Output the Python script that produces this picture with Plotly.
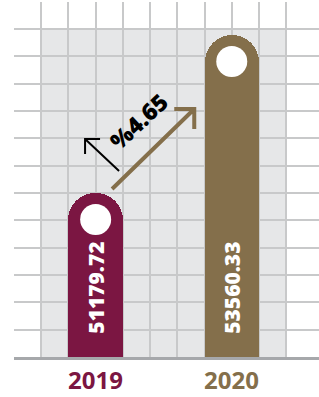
import plotly.graph_objects as go

# ---- data ----
categories = ["2019", "2020"]
values = [51179.72, 53560.33]
bar_colors = ["#7b1642", "#846f4b"]

# ---- layout constants ----
W, H = 319, 397
ML, MR, MT, MB = 14, 0, 2, 40
PLOT_W = W - ML - MR
PLOT_H = H - MT - MB
CELL_PX_X = 27.22
CELL_PX_Y = 27.33
X_MAX = PLOT_W / CELL_PX_X
Y_PER_PX = 15.067
Y_MIN = 48708.7
Y_MAX = Y_MIN + PLOT_H * Y_PER_PX
GRID_STEP = CELL_PX_Y * Y_PER_PX
bar_x = [3, 8]


def px2x(dx):
    return dx / CELL_PX_X


def px2y(dy):
    return dy * Y_PER_PX


fig = go.Figure()

fig.add_trace(go.Bar(
    x=bar_x, y=values, width=2,
    marker=dict(color=bar_colors, line=dict(width=0), cornerradius="50%"),
    hoverinfo="skip", showlegend=False,
))

fig.add_trace(go.Scatter(
    x=bar_x, y=[v - px2y(26.5) for v in values], mode="markers",
    marker=dict(size=31, color="white", line=dict(width=0)),
    hoverinfo="skip", showlegend=False,
))

annotations = []
for xi, cat, v, c in zip(bar_x, categories, values, bar_colors):
    annotations.append(dict(
        x=xi, y=Y_MIN, xref="x", yref="y", text=f"{v:.2f}", showarrow=False,
        textangle=-90, xanchor="center", yanchor="bottom", yshift=21,
        font=dict(family="Open Sans", size=21, color="white", weight=800),
    ))
    annotations.append(dict(
        x=xi, y=0, xref="x", yref="paper", text=cat, showarrow=False,
        xanchor="center", yanchor="middle", yshift=-22,
        font=dict(family="Open Sans", size=24, color=c, weight=700),
    ))

pct = (values[1] / values[0] - 1) * 100
x1, v1 = bar_x[0], values[0]
x2 = bar_x[1]
annotations.append(dict(
    x=x1 + px2x(43), y=v1 + px2y(72), xref="x", yref="y",
    text=f"%{pct:.2f}", showarrow=False, textangle=-43,
    font=dict(family="Open Sans", size=23, color="black", weight=800),
))

shapes = [
    dict(type="rect", xref="x", yref="y", x0=1, x1=10, y0=Y_MIN,
         y1=Y_MIN + 12 * GRID_STEP, fillcolor="#e6e7e8",
         line=dict(width=0), layer="below"),
]

# brown arrow
tail = (x1 + px2x(16.4), v1 + px2y(4))
tip = (x2 - px2x(37.5), v1 + px2y(84))
path = (f"M{tail[0]},{tail[1]} L{tip[0]},{tip[1]} "
        f"M{tip[0] - px2x(20)},{tip[1]} L{tip[0]},{tip[1]} L{tip[0]},{tip[1] - px2y(20)}")
shapes.append(dict(type="path", xref="x", yref="y", path=path,
                   line=dict(color=bar_colors[1], width=4), layer="above"))

# black arrow
btail = (x1 + px2x(23.4), v1 + px2y(22))
btip = (x1 - px2x(10.6), v1 + px2y(54))
path = (f"M{btail[0]},{btail[1]} L{btip[0]},{btip[1]} "
        f"M{btip[0] + px2x(15)},{btip[1]} L{btip[0]},{btip[1]} L{btip[0]},{btip[1] - px2y(15)}")
shapes.append(dict(type="path", xref="x", yref="y", path=path,
                   line=dict(color="black", width=2), layer="above"))

fig.update_layout(
    width=W, height=H,
    margin=dict(l=ML, r=MR, t=MT, b=MB, pad=0),
    plot_bgcolor="white", paper_bgcolor="white",
    showlegend=False, bargap=0,
    annotations=annotations, shapes=shapes,
    xaxis=dict(range=[0, X_MAX], tickmode="array", tickvals=list(range(1, 11)),
               showticklabels=False, ticks="", showgrid=True,
               gridcolor="#c8c9ca", gridwidth=2, zeroline=False,
               showline=True, linecolor="#a6a8ab", linewidth=2.5, fixedrange=True),
    yaxis=dict(range=[Y_MIN, Y_MAX], tickmode="array",
               tickvals=[Y_MIN + m * GRID_STEP for m in range(1, 13)],
               showticklabels=False, ticks="", showgrid=True,
               gridcolor="#c8c9ca", gridwidth=2, zeroline=False,
               showline=False, fixedrange=True),
)

fig.write_html(
    "out.html",
    config={"displayModeBar": False},
    post_script="document.body.style.margin='0';document.body.style.padding='0';",
)
